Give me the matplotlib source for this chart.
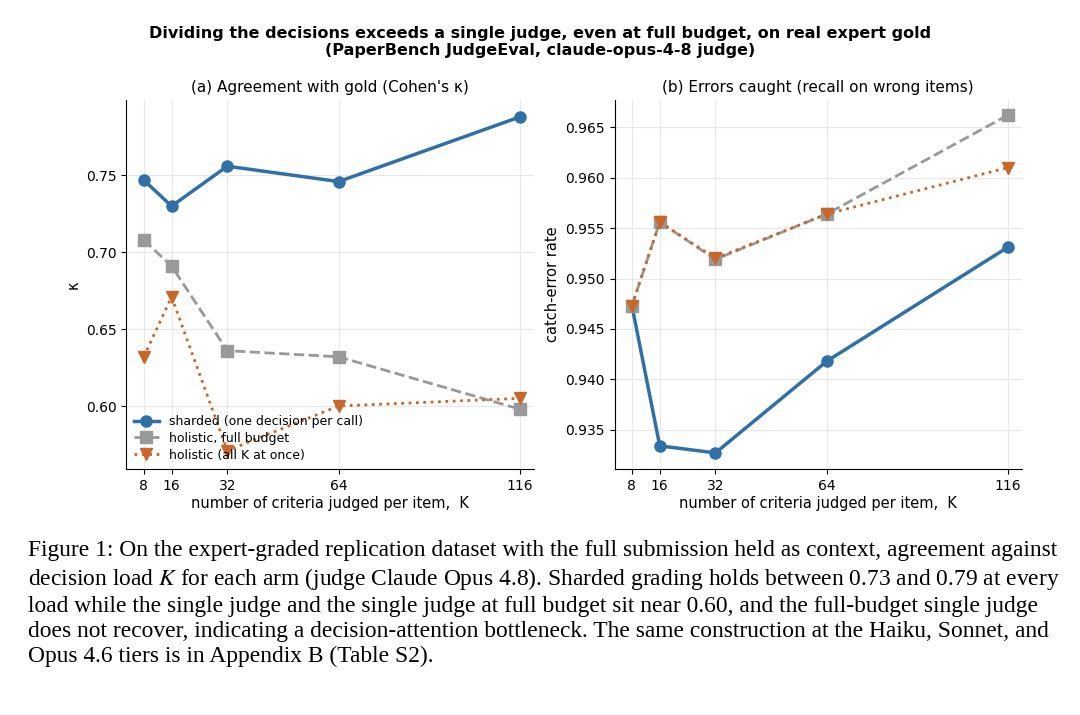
import matplotlib
matplotlib.use("Agg")
import matplotlib.pyplot as plt

K = [8, 16, 32, 64, 116]

kappa_sharded = [0.747, 0.730, 0.756, 0.746, 0.788]
kappa_full = [0.708, 0.691, 0.636, 0.632, 0.598]
kappa_allk = [0.632, 0.671, 0.571, 0.600, 0.605]

catch_sharded = [0.9473, 0.9334, 0.9327, 0.9418, 0.9531]
catch_full = [0.9473, 0.9556, 0.9519, 0.9564, 0.9662]
catch_allk = [0.9473, 0.9556, 0.9520, 0.9564, 0.9610]

BLUE = "#3070a5"
GREY = "#999999"
ORANGE = "#c8672a"

fig = plt.figure(figsize=(10.8, 7.15), dpi=100)
ax1 = fig.add_axes([0.117, 0.344, 0.377, 0.516])
ax2 = fig.add_axes([0.569, 0.344, 0.377, 0.516])

def draw(ax, s, f, a):
    ax.plot(K, s, "-o", color=BLUE, lw=2.5, ms=8, label="sharded (one decision per call)")
    ax.plot(K, f, "--s", color=GREY, lw=2, ms=8, label="holistic, full budget")
    ax.plot(K, a, ":v", color=ORANGE, lw=2, ms=8, label="holistic (all K at once)")
    ax.set_xticks(K)
    ax.grid(True, color="#e8e8e8", lw=0.8)
    ax.spines["top"].set_visible(False)
    ax.spines["right"].set_visible(False)
    ax.tick_params(labelsize=10)
    ax.set_xlabel("number of criteria judged per item,  K", fontsize=10.5, labelpad=2)

draw(ax1, kappa_sharded, kappa_full, kappa_allk)
ax1.set_ylim(0.559, 0.799)
ax1.set_yticks([0.60, 0.65, 0.70, 0.75])
ax1.set_xlim(3, 120)
ax1.set_ylabel("κ", fontsize=10.5)
ax1.set_title("(a) Agreement with gold (Cohen's κ)", fontsize=11)
ax1.legend(loc="lower left", frameon=False, fontsize=9, handlelength=2,
           borderaxespad=0.2, labelspacing=0.3)

draw(ax2, catch_sharded, catch_full, catch_allk)
ax2.set_ylim(0.9311, 0.9677)
ax2.set_yticks([0.935, 0.940, 0.945, 0.950, 0.955, 0.960, 0.965])
ax2.set_xlim(3, 120)
ax2.set_ylabel("catch-error rate", fontsize=10.5)
ax2.set_title("(b) Errors caught (recall on wrong items)", fontsize=11)

fig.text(0.5, 0.941, "Dividing the decisions exceeds a single judge, even at full budget, on real expert gold\n"
         "(PaperBench JudgeEval, claude-opus-4-8 judge)",
         ha="center", va="center", fontsize=11.5, fontweight="bold", linespacing=1.2)

caption = ("Figure 1: On the expert-graded replication dataset with the full submission held as context, agreement against\n"
           "decision load $K$ for each arm (judge Claude Opus 4.8). Sharded grading holds between 0.73 and 0.79 at every\n"
           "load while the single judge and the single judge at full budget sit near 0.60, and the full-budget single judge\n"
           "does not recover, indicating a decision-attention bottleneck. The same construction at the Haiku, Sonnet, and\n"
           "Opus 4.6 tiers is in Appendix B (Table S2).")
fig.text(0.026, 0.245, caption, ha="left", va="top", fontsize=16.9,
         family="Liberation Serif", linespacing=1.25, math_fontfamily="stix")

fig.savefig("out.png", dpi=100, facecolor="white")
